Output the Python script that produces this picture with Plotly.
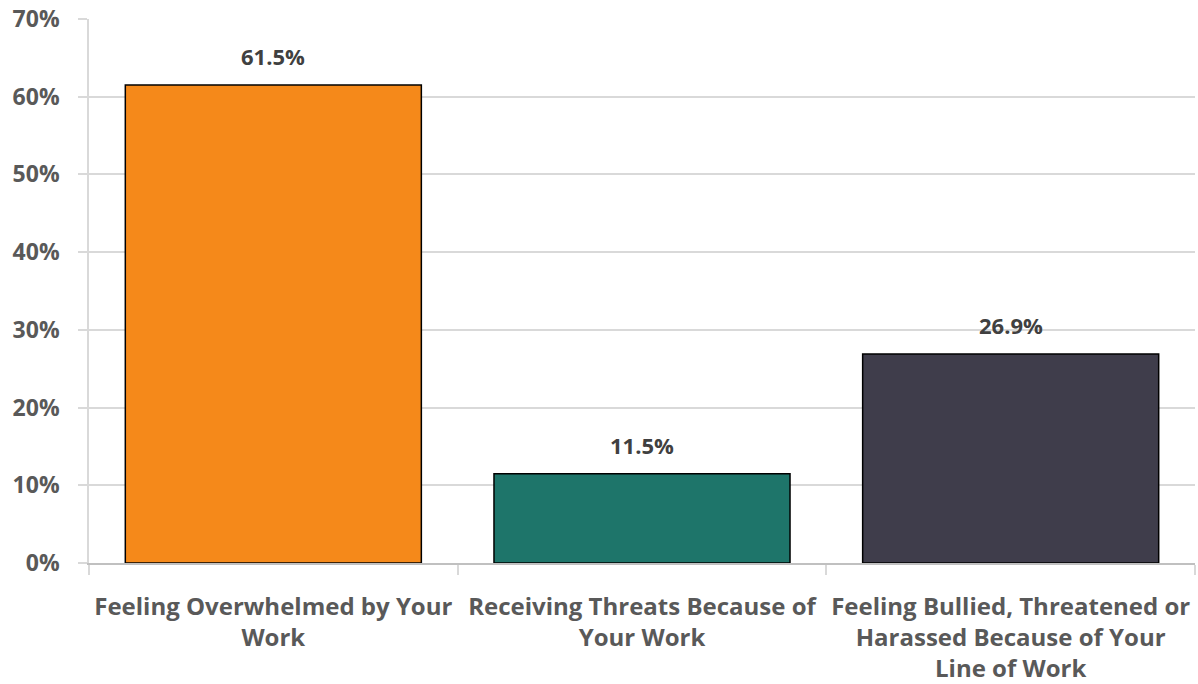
import plotly.graph_objects as go

categories = [
    "Feeling Overwhelmed by Your<br>Work",
    "Receiving Threats Because of<br>Your Work",
    "Feeling Bullied, Threatened or<br>Harassed Because of Your<br>Line of Work",
]
values = [61.5, 11.5, 26.9]
bar_colors = ["#F5891A", "#1E756A", "#3F3D4B"]
y_ticks = [0, 10, 20, 30, 40, 50, 60, 70]
y_tick_labels = ["0%", "10%", "20%", "30%", "40%", "50%", "60%", "70%"]

font_family = "Open Sans, DejaVu Sans, sans-serif"
text_color = "#595959"

fig = go.Figure()
fig.add_trace(go.Bar(
    x=categories,
    y=values,
    marker=dict(color=bar_colors, line=dict(color="#000000", width=1.5)),
    hoverinfo="skip",
))

for cat, v in zip(categories, values):
    fig.add_annotation(
        x=cat, y=v, xref="x", yref="y",
        text=f"<b>{v:.1f}%</b>",
        showarrow=False, yanchor="bottom", yshift=12,
        font=dict(family=font_family, size=22, color="#404040"),
    )

fig.update_layout(
    width=1198, height=684,
    margin=dict(l=89, r=3, t=19, b=121),
    paper_bgcolor="white", plot_bgcolor="white",
    showlegend=False,
    bargap=0.197,
    font=dict(family=font_family, size=20, color=text_color),
)
fig.update_xaxes(
    automargin=False,
    tickson="boundaries",
    ticks="outside", ticklen=10, tickcolor="#d9d9d9", tickwidth=1.5,
    showline=True, linecolor="#c0c0c0", linewidth=2,
    tickfont=dict(family=font_family, size=24, color=text_color, weight="bold"),
    ticklabelstandoff=21,
    showgrid=False,
)
fig.update_yaxes(
    automargin=False,
    range=[0, 70],
    tickvals=y_ticks, ticktext=y_tick_labels,
    ticks="outside", ticklen=9, tickcolor="#d9d9d9", tickwidth=1.5,
    showline=True, linecolor="#d9d9d9", linewidth=1.5,
    showgrid=True, gridcolor="#d9d9d9", gridwidth=1.5,
    zeroline=False,
    tickfont=dict(family=font_family, size=23, color=text_color, weight="bold"),
    ticklabelstandoff=14,
)

fig.write_html("out.html")
